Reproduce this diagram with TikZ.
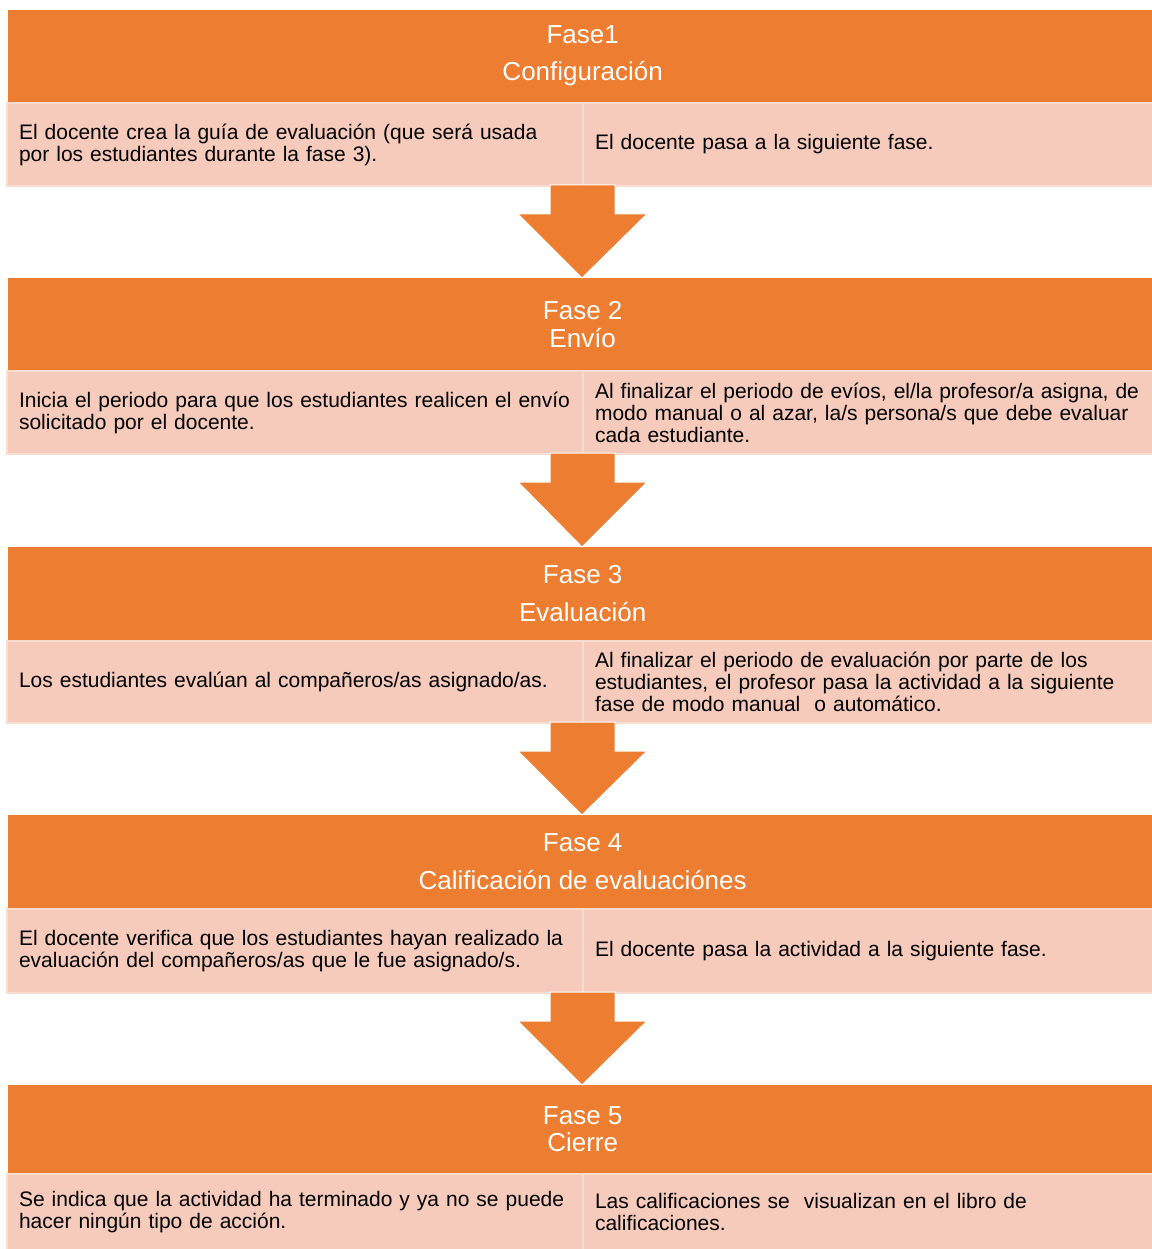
\documentclass[tikz,border=0pt]{standalone}
\usepackage{fontspec}
\setmainfont{Liberation Sans}
\definecolor{hdrorange}{HTML}{ED7D31}
\definecolor{cellfill}{HTML}{F6CBBB}
\definecolor{cellline}{HTML}{FADDD1}
\begin{document}
\begin{tikzpicture}[x=1pt,y=-1pt,
  hdrbox/.style={fill=hdrorange, draw=none, anchor=north west, minimum width=1149pt, inner sep=0pt, text=white, align=center},
  cellL/.style={fill=cellfill, draw=cellline, line width=2pt, anchor=north west, minimum width=576pt, inner xsep=12pt, inner ysep=0pt, text width=552pt, align=left, font=\fontsize{21}{22}\selectfont},
  cellR/.style={fill=cellfill, draw=cellline, line width=2pt, anchor=north west, minimum width=569pt, inner xsep=12pt, inner ysep=0pt, text width=560pt, align=left, font=\fontsize{21}{22}\selectfont},
  downarrow/.style={fill=hdrorange, draw=white, line width=1pt, line join=miter}
]
\useasboundingbox (0,0) rectangle (1151,1249);

% Phase 1
\node[hdrbox, minimum height=92pt, font=\fontsize{26}{37}\selectfont] (h1) at (8,10) {Fase1\\Configuración};
\node[cellL, minimum height=83pt] (c1a) at (6,102) {El docente crea la guía de evaluación (que será usada\\por los estudiantes durante la fase 3).};
\node[cellR, minimum height=83pt] (c1b) at (582,102) {El docente pasa a la siguiente fase.};

% Phase 2
\node[hdrbox, minimum height=92pt, font=\fontsize{26}{28}\selectfont] (h2) at (8,278) {Fase 2\\Envío};
\node[cellL, minimum height=83pt] (c2a) at (6,370) {Inicia el periodo para que los estudiantes realicen el envío\\solicitado por el docente.};
\node[cellR, minimum height=83pt] (c2b) at (582,370) {Al finalizar el periodo de evíos, el/la profesor/a asigna, de\\modo manual o al azar, la/s persona/s que debe evaluar\\cada estudiante.};

% Phase 3
\node[hdrbox, minimum height=93pt, font=\fontsize{26}{38}\selectfont] (h3) at (8,547) {Fase 3\\Evaluación};
\node[cellL, minimum height=82pt] (c3a) at (6,640) {Los estudiantes evalúan al compañeros/as asignado/as.};
\node[cellR, minimum height=82pt] (c3b) at (582,640) {Al finalizar el periodo de evaluación por parte de los\\estudiantes, el profesor pasa la actividad a la siguiente\\fase de modo manual\ \ o automático.};

% Phase 4
\node[hdrbox, minimum height=93pt, font=\fontsize{26}{38}\selectfont] (h4) at (8,815) {Fase 4\\Calificación de evaluaciónes};
\node[cellL, minimum height=84pt] (c4a) at (6,908) {El docente verifica que los estudiantes hayan realizado la\\evaluación del compañeros/as que le fue asignado/s.};
\node[cellR, minimum height=84pt] (c4b) at (582,908) {El docente pasa la actividad a la siguiente fase.};

% Phase 5
\node[hdrbox, minimum height=88pt, font=\fontsize{26}{27}\selectfont] (h5) at (8,1085) {Fase 5\\Cierre};
\node[cellL, minimum height=76pt] (c5a) at (6,1173) {Se indica que la actividad ha terminado y ya no se puede\\hacer ningún tipo de acción.};
\node[cellR, minimum height=76pt] (c5b) at (582,1173) {Las calificaciones se\ \ visualizan en el libro de\\calificaciones.};

% Arrows between phases
\foreach \top/\tip in {185/278, 453/547, 722/815, 992/1085}{
  \pgfmathsetmacro{\mid}{\top+29}
  \draw[downarrow] (550,\top) -- (615,\top) -- (615,\mid) -- (647,\mid) -- (582,\tip) -- (518,\mid) -- (550,\mid) -- cycle;
}
\end{tikzpicture}
\end{document}
